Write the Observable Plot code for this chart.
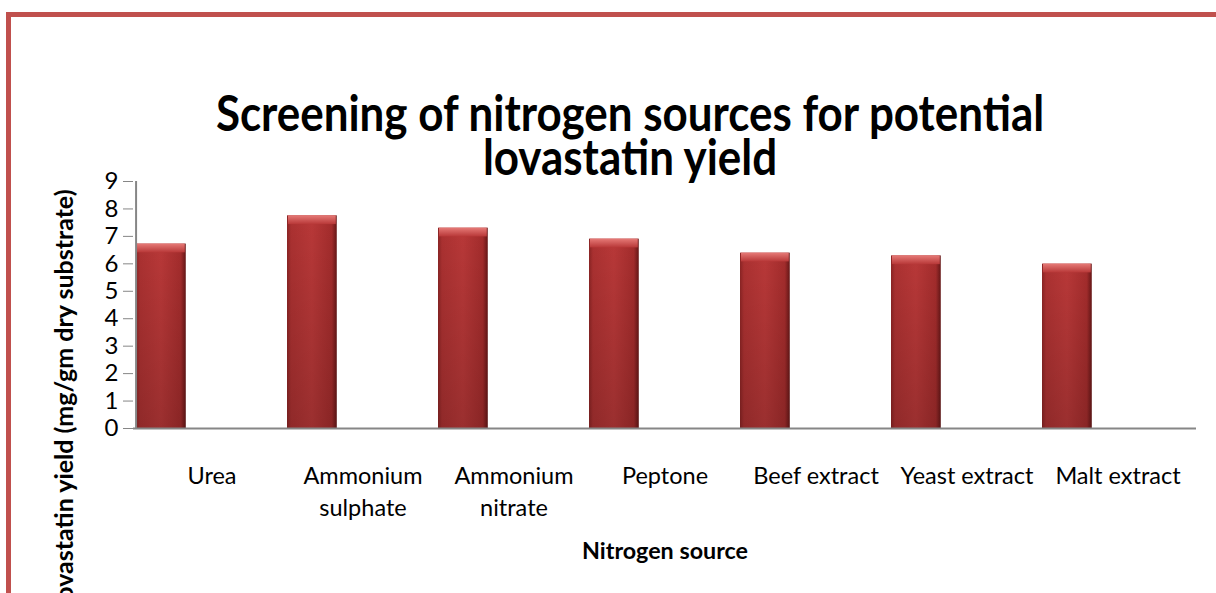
<!DOCTYPE html>
<html><head><meta charset="utf-8">
<script src="https://cdn.jsdelivr.net/npm/d3@7"></script>
<script src="https://cdn.jsdelivr.net/npm/@observablehq/plot@0.6"></script>
<style>
html,body{margin:0;padding:0;background:#fff;}
#wrap{position:relative;width:1216px;height:593px;overflow:hidden;font-family:Lato,"Open Sans",sans-serif;}
#frame{position:absolute;left:6px;top:12px;width:1300px;height:700px;border-top:5px solid #c0504d;border-left:5px solid #c0504d;box-sizing:border-box;}
#title{position:absolute;left:0;width:1260px;top:95px;text-align:center;font-weight:700;color:#000;white-space:nowrap;}
#title div{transform-origin:630px 50%;}
#chart{position:absolute;left:0;top:0;}
</style>
</head><body>
<div id="wrap">
  <div id="frame"></div>
  <div id="chart"></div>
  <div id="title"><div id="t1">Screening of nitrogen sources for potential</div><div id="t2">lovastatin yield</div></div>
</div>
<script>
const categories = ["Urea","Ammonium sulphate","Ammonium nitrate","Peptone","Beef extract","Yeast extract","Malt extract"];
const tickLabels = ["Urea","Ammonium\nsulphate","Ammonium\nnitrate","Peptone","Beef extract","Yeast extract","Malt extract"];
const yields = [6.72, 7.75, 7.30, 6.90, 6.39, 6.29, 5.99];
const yTicks = [0,1,2,3,4,5,6,7,8,9];
const yLabel = "Lovastatin yield (mg/gm dry substrate)";
const xLabel = "Nitrogen source";

const data = categories.map((c, i) => ({source: c, value: yields[i]}));

const W = 1216, H = 593, mL = 133, mR = 20, mT = 181, mB = 165;
const bw = (W - mL - mR) / categories.length;

function defs() {
  const ns = "http://www.w3.org/2000/svg";
  const d = document.createElementNS(ns, "defs");
  d.innerHTML = `
    <linearGradient id="gH" x1="0" x2="1" y1="0" y2="0">
      <stop offset="0" stop-color="#8a2424"/>
      <stop offset="0.08" stop-color="#ab3131"/>
      <stop offset="0.5" stop-color="#b83838"/>
      <stop offset="0.9" stop-color="#a32c2c"/>
      <stop offset="1" stop-color="#661717"/>
    </linearGradient>
    <linearGradient id="gV" x1="0" x2="0" y1="0" y2="1">
      <stop offset="0" stop-color="#000" stop-opacity="0"/>
      <stop offset="1" stop-color="#000" stop-opacity="0.16"/>
    </linearGradient>
    <linearGradient id="gC" x1="0" x2="0" y1="0" y2="1">
      <stop offset="0" stop-color="#e67a77"/>
      <stop offset="1" stop-color="#b83838"/>
    </linearGradient>`;
  return d;
}

function draw() {
  const chart = Plot.plot({
    width: W, height: H,
    marginLeft: mL, marginRight: mR, marginTop: mT, marginBottom: mB,
    style: {fontFamily: "Lato, 'Open Sans', sans-serif", background: "transparent", overflow: "visible"},
    x: {type: "band", domain: categories, padding: 0, axis: null},
    y: {domain: [0, 9], axis: null},
    marks: [
      defs,
      Plot.barY(data, {x: "source", y: "value", fill: "url(#gH)", insetRight: bw * 2 / 3}),
      Plot.barY(data, {x: "source", y: "value", fill: "url(#gV)", insetRight: bw * 2 / 3}),
      Plot.barY(data, {x: "source", y1: d => d.value - 0.32, y2: "value", fill: "url(#gC)", insetRight: bw * 2 / 3 + 1, insetLeft: 1}),
      Plot.ruleY([0], {stroke: "#868686", strokeWidth: 2}),
      Plot.ruleX([categories[0]], {dx: -bw / 2, stroke: "#868686", strokeWidth: 2}),
      Plot.axisY(yTicks, {tickSize: 10, tickPadding: 5, fontSize: 24, stroke: "#868686", fill: "#000", label: null, tickFormat: d => String(d)}),
      Plot.axisX({tickSize: 0, tickPadding: 32.5, fontSize: 23.5, lineHeight: 1.36, fill: "#000", label: null,
        tickFormat: d => tickLabels[categories.indexOf(d)]}),
      Plot.text([yLabel], {text: d => d, frameAnchor: "top-left", rotate: -90, textAnchor: "end", dx: -78, dy: 8, fontSize: 25, fontWeight: "bold", fill: "#000"}),
      Plot.text([xLabel], {text: d => d, frameAnchor: "bottom", lineAnchor: "top", dy: 113.5, fontSize: 23.3, fontWeight: "bold", fill: "#000"})
    ]
  });
  document.getElementById("chart").appendChild(chart);

  // title: fitted to the reference width
  const F = 49, L = 44;
  const c = document.createElement("canvas").getContext("2d");
  c.font = "bold " + F + "px Lato";
  const w = c.measureText("Screening of nitrogen sources for potential").width;
  const sx = 830 / w;
  const t = document.getElementById("title");
  t.style.fontSize = F + "px";
  t.style.lineHeight = L + "px";
  t.style.top = (131 - ((L - 1.2 * F) / 2 + 0.987 * F)) + "px";
  for (const el of t.children) el.style.transform = "scaleX(" + sx + ")";
}

document.fonts.load("bold 49px Lato").then(draw, draw);
</script>
</body></html>
